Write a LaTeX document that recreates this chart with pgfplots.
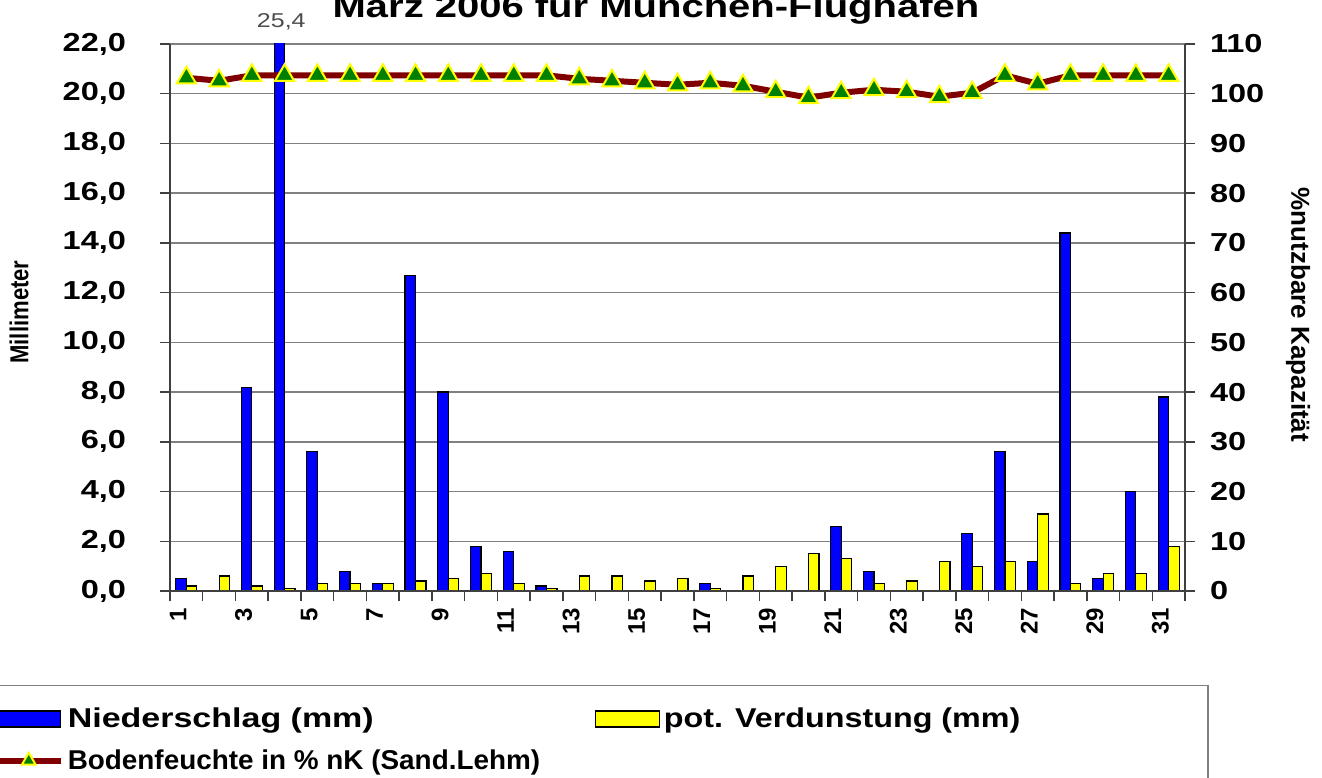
\documentclass[border=0pt]{standalone}
\usepackage{fontspec}
\setmainfont{Liberation Sans}[FakeStretch=1.25]
\newfontfamily\vfont{Liberation Sans}[FakeStretch=0.85]
\newfontfamily\xfont{Liberation Sans}
\usepackage{graphicx}
\usepackage{pgfplots}
\pgfplotsset{compat=1.18}
\definecolor{myblue}{RGB}{0,0,255}
\definecolor{myyellow}{RGB}{255,255,0}
\definecolor{darkred}{RGB}{128,0,0}
\definecolor{mygreen}{RGB}{0,128,0}
\definecolor{gridgray}{RGB}{128,128,128}
\pgfplotsset{
  barlegend/.style={legend image code/.code={\draw[##1] (0bp,-4bp) rectangle (32bp,4bp);}},
  linelegend/.style={legend image code/.code={\draw[mark repeat=2,mark phase=2,##1] plot coordinates {(0bp,0bp) (16bp,0bp) (32bp,0bp)};}},
  common/.style={
    at={(0,0)}, anchor=south west, scale only axis,
    width=507.5bp, height=273.5bp,
    xmin=0.5, xmax=31.5,
    tick align=outside, major tick length=5bp,
    tick style={draw=black!75, line width=0.75bp},
    axis line style={draw=black!75, line width=0.75bp},
  }
}
\begin{document}
\begin{tikzpicture}
\begin{axis}[common,
  ymin=0, ymax=22,
  clip mode=individual,
  axis x line*=bottom, axis y line*=left,
  ytick={0,2,...,22},
  ymajorgrids, grid style={draw=gridgray, line width=0.75bp},
  yticklabel style={font=\fontsize{13bp}{15bp}\selectfont\bfseries, xshift=-13.5bp,
    /pgf/number format/.cd, fixed, fixed zerofill, precision=1, use comma, assume math mode=true},
  xtick={1,3,...,31},
  xtick style={draw=none},
  xticklabel style={font=\xfont\fontsize{12bp}{14bp}\selectfont\bfseries, rotate=90, anchor=base east,
    /pgf/number format/assume math mode=true},
  ylabel={Millimeter},
  ylabel style={at={(axis description cs:-0.1488,0.51)}, anchor=center, font=\vfont\fontsize{13bp}{15bp}\selectfont\bfseries},
  legend columns=2,
  legend cell align=left,
  legend style={at={(-0.1783,-0.1718)}, anchor=north west, draw=gridgray, line width=0.75bp, fill=white,
    font=\fontsize{13.6bp}{16bp}\selectfont\bfseries, inner ysep=9bp, inner xsep=2bp,
    /tikz/every even column/.append style={column sep=25.5bp}, row sep=5.5bp},
]
\addplot[ybar, bar width=0.32, bar shift=-0.16, fill=myblue, draw=black, line width=0.6bp, barlegend] coordinates {
(1,0.5) (3,8.2) (4,25.4) (5,5.6) (6,0.8) (7,0.3) (8,12.7) (9,8.0) (10,1.8)
(11,1.6) (12,0.2) (17,0.3) (21,2.6) (22,0.8) (25,2.3) (26,5.6) (27,1.2)
(28,14.4) (29,0.5) (30,4.0) (31,7.8)};
\addlegendentry{\makebox[236bp][l]{Niederschlag (mm)}}
\addplot[ybar, bar width=0.32, bar shift=0.16, fill=myyellow, draw=black, line width=0.6bp, barlegend] coordinates {
(1,0.2) (2,0.6) (3,0.2) (4,0.1) (5,0.3) (6,0.3) (7,0.3) (8,0.4) (9,0.5) (10,0.7)
(11,0.3) (12,0.1) (13,0.6) (14,0.6) (15,0.4) (16,0.5) (17,0.1) (18,0.6) (19,1.0) (20,1.5)
(21,1.3) (22,0.3) (23,0.4) (24,1.2) (25,1.0) (26,1.2) (27,3.1) (28,0.3) (29,0.7) (30,0.7) (31,1.8)};
\addlegendentry{\makebox[268bp][l]{\scalebox{0.95}[1]{pot. Verdunstung (mm)}}}
\addlegendimage{linelegend, draw=darkred, line width=3bp, mark=triangle*, mark size=4bp, mark options={fill=mygreen, draw=myyellow, line width=1bp}}
\addlegendentry{\makebox[236bp][l]{\scalebox{0.82}[1]{Bodenfeuchte in \% nK (Sand.Lehm)}}}
\node[anchor=base, font=\fontsize{10bp}{12bp}\selectfont, text=black!70] at (axis cs:3.9,22) [yshift=8.5bp] {25,4};
\end{axis}
\begin{axis}[common,
  ymin=0, ymax=110,
  axis x line*=bottom, axis y line*=right,
  xtick={0.5,1.5,...,31.5}, xticklabel=\empty,
  ytick={0,10,...,110},
  yticklabel style={font=\fontsize{13bp}{15bp}\selectfont\bfseries, xshift=4bp, /pgf/number format/assume math mode=true},
  ylabel={\%nutzbare Kapazität},
  ylabel style={at={(axis description cs:1.1113,0.5046)}, anchor=center, rotate=180, font=\xfont\fontsize{13bp}{15bp}\selectfont\bfseries},
]
\addplot[draw=darkred, line width=3bp, mark=triangle*, mark size=5.5bp, mark options={fill=mygreen, draw=myyellow, line width=1bp}] coordinates {
(1,103.2) (2,102.6) (3,103.7) (4,103.7) (5,103.7) (6,103.7) (7,103.7) (8,103.7) (9,103.7) (10,103.7)
(11,103.7) (12,103.7) (13,103.0) (14,102.6) (15,102.2) (16,101.8) (17,102.2) (18,101.6) (19,100.4) (20,99.2)
(21,100.2) (22,100.8) (23,100.4) (24,99.4) (25,100.2) (26,103.7) (27,102.0) (28,103.7) (29,103.7) (30,103.7) (31,103.7)};
\end{axis}
\node[anchor=base, font=\fontsize{16bp}{19bp}\selectfont\bfseries] at (243bp,286.5bp) {März 2006 für München-Flughafen};
\pgfresetboundingbox
\useasboundingbox (-85bp,-93.5bp) rectangle (576bp,295.5bp);
\end{tikzpicture}
\end{document}
